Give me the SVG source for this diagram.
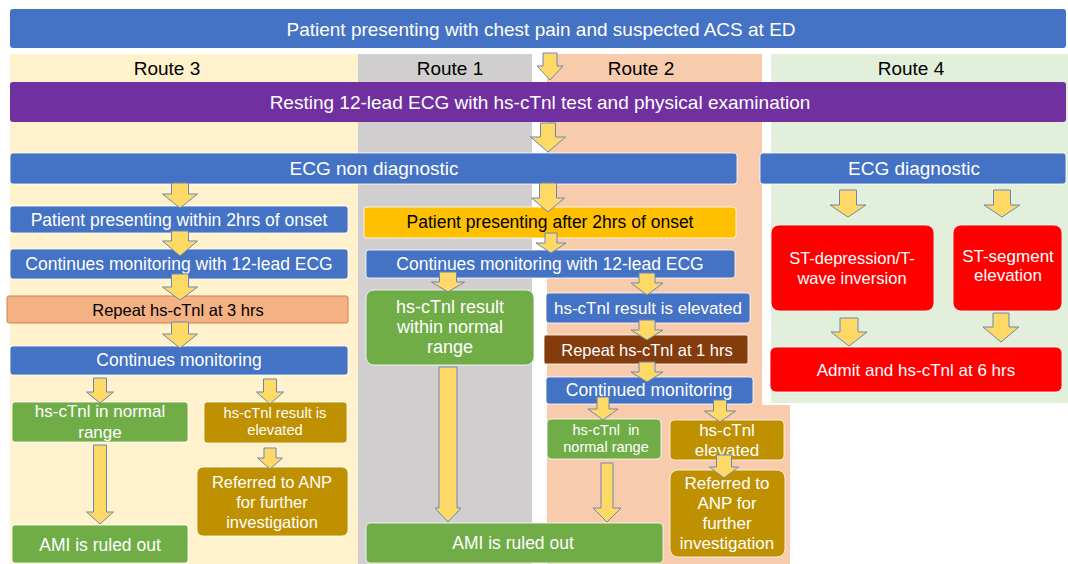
<svg xmlns="http://www.w3.org/2000/svg" width="1068" height="564" viewBox="0 0 1068 564">
<style>
.t{font-family:"Liberation Sans",Arial,sans-serif;text-anchor:middle}
.w{fill:#fff}.k{fill:#000}
.blue{fill:#4472C4;stroke:#fff;stroke-width:0.8}
.green{fill:#70AD47;stroke:#fff;stroke-width:0.8}
.gold{fill:#BF9000;stroke:#fff;stroke-width:0.8}
.red{fill:#FF0000;stroke:#fff;stroke-width:0.8}
.arrow{fill:#FFD966;stroke:#6A86B8;stroke-width:1}
.f19{font-size:19px}.f175{font-size:17.5px}.f17{font-size:17px}.f165{font-size:16.5px}.f15{font-size:14.7px}.f145{font-size:14.5px}.f18{font-size:18px}
</style>
<rect width="1068" height="564" fill="#fff"/>
<g id="lanes">
<rect x="10" y="54" width="348" height="510" fill="#FFF2CC"/>
<rect x="358" y="54" width="174" height="510" fill="#D0CECE"/>
<path d="M547,54 H762 V405 H790 V564 H547 Z" fill="#F8CBAD"/>
<rect x="771" y="54" width="297" height="349" fill="#E2EFDA"/>
<text class="t k f19" x="167" y="74.5">Route 3</text>
<text class="t k f19" x="450" y="74.5">Route 1</text>
<text class="t k f19" x="641" y="74.5">Route 2</text>
<text class="t k f19" x="911" y="74.5">Route 4</text>
</g>
<g id="n-start"><rect x="10" y="9" width="1056" height="39" rx="3" fill="#4472C4"/><text class="t w f19" x="541" y="35.5">Patient presenting with chest pain and suspected ACS at ED</text></g>
<g id="n-resting"><rect x="10" y="82" width="1056" height="40" rx="3" fill="#7030A0"/><text class="t w f19" x="540" y="108.5">Resting 12-lead ECG with hs-cTnl test and physical examination</text></g>
<g id="n-nondiag"><rect x="10" y="153" width="727" height="31" rx="3" class="blue"/><text class="t w f19" x="374" y="175">ECG non diagnostic</text></g>
<g id="n-diag"><rect x="760" y="153" width="306" height="31" rx="3" class="blue"/><text class="t w f19" x="914" y="175">ECG diagnostic</text></g>

<g id="n-within2"><rect x="10" y="206" width="338" height="27" rx="3" class="blue"/><text class="t w f175" x="179" y="226">Patient presenting within 2hrs of onset</text></g>
<g id="n-cont12a"><rect x="10" y="249" width="338" height="30" rx="3" class="blue"/><text class="t w f175" x="179" y="270">Continues monitoring with 12-lead ECG</text></g>
<g id="n-repeat3"><rect x="7" y="296" width="341" height="27" rx="2" fill="#F4B183" stroke="#C9834F" stroke-width="1"/><text class="t k f165" x="178" y="316">Repeat hs-cTnl at 3 hrs</text></g>
<g id="n-contmon"><rect x="10" y="346" width="338" height="29" rx="3" class="blue"/><text class="t w f175" x="179" y="366">Continues monitoring</text></g>
<g id="n-normal3"><rect x="12" y="402" width="176" height="40" rx="3" class="green"/><text class="t w f17" x="100" y="417">hs-cTnl in normal</text><text class="t w f17" x="100" y="438">range</text></g>
<g id="n-elev3"><rect x="204" y="402" width="143" height="41" rx="3" class="gold"/><text class="t w f15" x="275" y="418">hs-cTnl result is</text><text class="t w f15" x="275" y="435">elevated</text></g>
<g id="n-ref3"><rect x="197" y="467" width="151" height="69" rx="6" class="gold"/><text class="t w f165" x="272" y="488">Referred to ANP</text><text class="t w f165" x="272" y="508">for further</text><text class="t w f165" x="272" y="528">investigation</text></g>
<g id="n-ami3"><rect x="12" y="525" width="176" height="38" rx="3" class="green"/><text class="t w f175" x="100" y="551">AMI is ruled out</text></g>

<g id="n-after2"><rect x="364" y="207" width="372" height="31" rx="3" fill="#FFC000" stroke="#fff" stroke-width="0.8"/><text class="t k f175" x="550" y="228">Patient presenting after 2hrs of onset</text></g>
<g id="n-cont12b"><rect x="366" y="250" width="369" height="28" rx="3" class="blue"/><text class="t w f175" x="550" y="270">Continues monitoring with 12-lead ECG</text></g>
<g id="n-withinnormal"><rect x="366" y="290" width="168" height="75" rx="8" class="green"/><text class="t w f18" x="450" y="313">hs-cTnl result</text><text class="t w f18" x="450" y="333">within normal</text><text class="t w f18" x="450" y="353">range</text></g>
<g id="n-elev2"><rect x="546" y="293" width="204" height="30" rx="3" class="blue"/><text class="t w f17" x="648" y="314">hs-cTnl result is elevated</text></g>
<g id="n-repeat1"><rect x="544" y="335" width="204" height="29" rx="2" fill="#843C0C" stroke="#fff" stroke-width="0.8"/><text class="t w f165" x="647" y="356">Repeat hs-cTnl at 1 hrs</text></g>
<g id="n-continued"><rect x="546" y="377" width="207" height="27" rx="3" class="blue"/><text class="t w f175" x="649" y="396">Continued monitoring</text></g>
<g id="n-normal2"><rect x="547" y="419" width="114" height="40" rx="4" class="green"/><text class="t w f145" x="606" y="435" xml:space="preserve">hs-cTnl  in</text><text class="t w f145" x="606" y="452">normal range</text></g>
<g id="n-elev2b"><rect x="670" y="420" width="114" height="40" rx="4" class="gold"/><text class="t w f17" x="727" y="436">hs-cTnl</text><text class="t w f17" x="727" y="456">elevated</text></g>
<g id="n-ref2"><rect x="670" y="470" width="115" height="87" rx="8" class="gold"/><text class="t w f17" x="727" y="489">Referred to</text><text class="t w f17" x="727" y="509">ANP for</text><text class="t w f17" x="727" y="529">further</text><text class="t w f17" x="727" y="549">investigation</text></g>
<g id="n-ami12"><rect x="366" y="523" width="297" height="40" rx="4" class="green"/><text class="t w f175" x="513" y="549">AMI is ruled out</text></g>

<g id="n-stdep"><rect x="771" y="225" width="163" height="86" rx="8" class="red"/><text class="t w f165" x="852" y="264">ST-depression/T-</text><text class="t w f165" x="852" y="284">wave inversion</text></g>
<g id="n-stseg"><rect x="953" y="225" width="109" height="86" rx="8" class="red"/><text class="t w f17" x="1008" y="262">ST-segment</text><text class="t w f17" x="1008" y="281">elevation</text></g>
<g id="n-admit"><rect x="770" y="347" width="292" height="45" rx="6" class="red"/><text class="t w f17" x="916" y="376">Admit and hs-cTnl at 6 hrs</text></g>

<g id="connectors" class="arrow">
<path d="M543,53 H557 V66 H563 L550,80 L537,66 H543 Z"/>
<path d="M540.5,123 H555.5 V137 H565.5 L548,152 L530.5,137 H540.5 Z"/>
<path d="M171.5,183 H188.5 V194 H197.5 L180,208 L162.5,194 H171.5 Z"/>
<path d="M171.5,231 H188.5 V241 H197.5 L180,256 L162.5,241 H171.5 Z"/>
<path d="M171.5,274 H188.5 V287 H197.5 L180,300 L162.5,287 H171.5 Z"/>
<path d="M171.5,322 H188.5 V334 H197.5 L180,348 L162.5,334 H171.5 Z"/>
<path d="M93.5,378 H106.5 V392 H113.5 L100,403 L86.5,392 H93.5 Z"/>
<path d="M263.5,379 H276.5 V392 H283.5 L270,404 L256.5,392 H263.5 Z"/>
<path d="M264,448 H276 V458 H282.5 L270,469 L257.5,458 H264 Z"/>
<path d="M93.5,445 H106.5 V512 H113.5 L100,524 L86.5,512 H93.5 Z"/>
<path d="M539.5,183 H556.5 V198 H564.5 L548,212 L531.5,198 H539.5 Z"/>
<path d="M545,233 H557 V243 H566 L551,253 L536,243 H545 Z"/>
<path d="M439.5,272 H456.5 V282 H464.5 L448,292 L431.5,282 H439.5 Z"/>
<path d="M639,273 H655 V283 H663 L647,295 L631,283 H639 Z"/>
<path d="M639,320 H655 V330 H663 L647,340 L631,330 H639 Z"/>
<path d="M639,362 H655 V372 H663 L647,382 L631,372 H639 Z"/>
<path d="M597,397 H609 V409 H618 L603,420 L588,409 H597 Z"/>
<path d="M713.5,400 H726.5 V411 H735.5 L720,422 L704.5,411 H713.5 Z"/>
<path d="M716.5,455 H731.5 V467 H738.5 L724,478 L709.5,467 H716.5 Z"/>
<path d="M439,367 H457 V508 H461 L448,522 L435,508 H439 Z"/>
<path d="M601,463 H613 V508 H621 L607,522 L593,508 H601 Z"/>
<path d="M839.5,190 H856.5 V205 H866 L848,217 L830,205 H839.5 Z"/>
<path d="M993.5,190 H1010.5 V205 H1020 L1002,217 L984,205 H993.5 Z"/>
<path d="M840,318 H858 V332 H867 L849,346 L831,332 H840 Z"/>
<path d="M993,313 H1009 V327 H1019 L1001,342 L983,327 H993 Z"/>
</g>
</svg>
